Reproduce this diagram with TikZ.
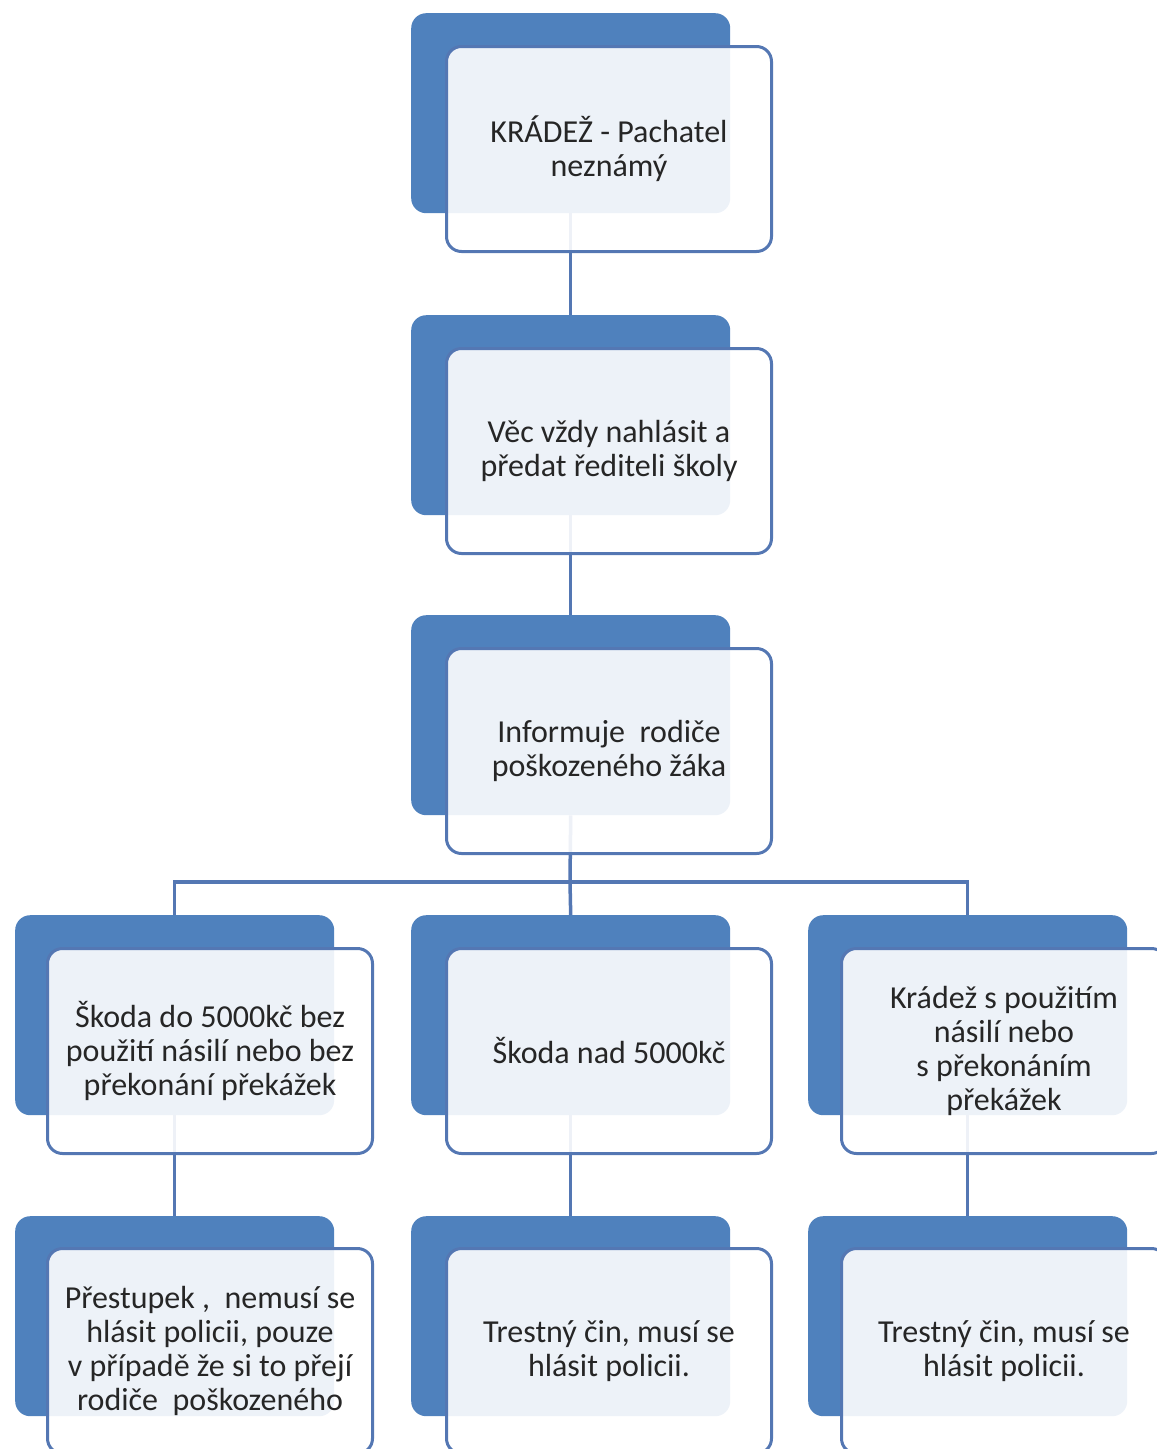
\documentclass[tikz,border=0pt]{standalone}
\usepackage{fontspec}
\setmainfont{Carlito}
\definecolor{backblue}{HTML}{4F81BD}
\definecolor{edgeblue}{HTML}{5477B3}
\definecolor{txt}{HTML}{262626}
\begin{document}
\begin{tikzpicture}[x=1pt,y=-1pt,
  backcard/.style={draw=none,fill=backblue,rounded corners=15pt,minimum width=319pt,minimum height=200pt,anchor=north west,inner sep=0pt},
  frontcard/.style={draw=edgeblue,line width=3pt,fill=white,fill opacity=0.9,text opacity=1,text=txt,rounded corners=15pt,minimum width=325pt,minimum height=205pt,anchor=north west,inner sep=0pt,align=center,font=\fontsize{32}{34}\selectfont},
  link/.style={draw=edgeblue,line width=3.5pt}]
\useasboundingbox (0,0) rectangle (1157,1449);
% back cards
\node[backcard] (b1) at (411,13) {};
\node[backcard] (b2) at (411,315) {};
\node[backcard] (b3) at (411,615) {};
\node[backcard] (b4l) at (15,915) {};
\node[backcard] (b4m) at (411,915) {};
\node[backcard] (b4r) at (808,915) {};
\node[backcard] (b5l) at (15,1216) {};
\node[backcard] (b5m) at (411,1216) {};
\node[backcard] (b5r) at (808,1216) {};
% connectors
\draw[link] (b1.south) -- (b2.north);
\draw[link] (b2.south) -- (b3.north);
\draw[link] (b3.south) -- (570,882) coordinate (bus);
\draw[link] (b4l.north) |- (bus) -| (b4r.north);
\draw[link] (bus) -- (b4m.north);
\draw[link] (b4l.south) -- (b5l.north);
\draw[link] (b4m.south) -- (b5m.north);
\draw[link] (b4r.south) -- (b5r.north);
% front cards
\node[frontcard] (f1) at (445,45) {KRÁDEŽ - Pachatel\\neznámý};
\node[frontcard] (f2) at (445,347) {Věc vždy nahlásit a\\předat řediteli školy};
\node[frontcard] (f3) at (445,647) {Informuje\ \ rodiče\\poškozeného žáka};
\node[frontcard] (f4l) at (46,947) {Škoda do 5000kč bez\\použití násilí nebo bez\\překonání překážek};
\node[frontcard] (f4m) at (445,947) {Škoda nad 5000kč};
\node[frontcard] (f4r) at (840,947) {Krádež s použitím\\násilí nebo\\s překonáním\\překážek};
\node[frontcard] (f5l) at (46,1247) {Přestupek ,\ \ nemusí se\\hlásit policii, pouze\\v případě že si to přejí\\rodiče\ \ poškozeného};
\node[frontcard] (f5m) at (445,1247) {Trestný čin, musí se\\hlásit policii.};
\node[frontcard] (f5r) at (840,1247) {Trestný čin, musí se\\hlásit policii.};
\end{tikzpicture}
\end{document}
